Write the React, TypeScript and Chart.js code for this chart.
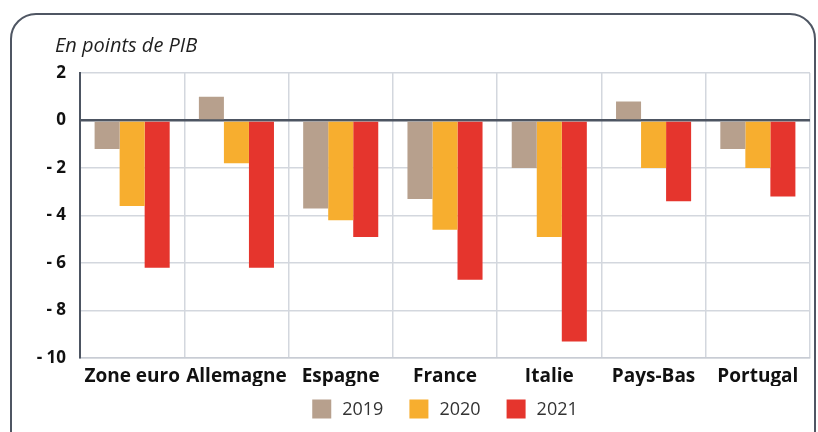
import React, { useEffect, useRef } from "react";
import { Chart, registerables } from "chart.js";

Chart.register(...registerables);

const categories = ["Zone euro", "Allemagne", "Espagne", "France", "Italie", "Pays-Bas", "Portugal"];
const values2019 = [-1.2, 1.0, -3.7, -3.3, -2.0, 0.8, -1.2];
const values2020 = [-3.6, -1.8, -4.2, -4.6, -4.9, -2.0, -2.0];
const values2021 = [-6.2, -6.2, -4.9, -6.7, -9.3, -3.4, -3.2];
const seriesLabels = ["2019", "2020", "2021"];
const seriesColors = ["#b7a08d", "#f7ae2f", "#e5352d"];
const yTicks = [2, 0, -2, -4, -6, -8, -10];
const titleText = "En points de PIB";

const FONT = "'Open Sans', 'DejaVu Sans', sans-serif";

export default function App() {
  const ref = useRef<HTMLCanvasElement | null>(null);

  useEffect(() => {
    if (!ref.current) return;
    const extrasPlugin = {
      id: "extras",
      afterDraw(chart: any) {
        const ctx = chart.ctx;
        ctx.save();
        // title
        ctx.font = `italic 20px ${FONT}`;
        ctx.fillStyle = "#1f1f1f";
        ctx.textAlign = "left";
        ctx.textBaseline = "middle";
        ctx.fillText(titleText, 55, 46);
        // legend
        ctx.font = `18px ${FONT}`;
        const box = 19;
        const gapText = 11;
        const gapItem = 26;
        const widths = seriesLabels.map((l) => ctx.measureText(l).width);
        const total = widths.reduce((a, w) => a + box + gapText + w, 0) + gapItem * (seriesLabels.length - 1);
        const cx = (chart.chartArea.left + chart.chartArea.right) / 2;
        let x = cx - total / 2;
        const cy = 409;
        seriesLabels.forEach((l, i) => {
          ctx.fillStyle = seriesColors[i];
          ctx.fillRect(x, cy - box / 2, box, box);
          ctx.fillStyle = "#333";
          ctx.fillText(l, x + box + gapText, cy + 1);
          x += box + gapText + widths[i] + gapItem;
        });
        ctx.restore();
      },
    };
    const chart = new Chart(ref.current, {
      type: "bar",
      data: {
        labels: categories,
        datasets: [
          { label: seriesLabels[0], data: values2019, backgroundColor: seriesColors[0] },
          { label: seriesLabels[1], data: values2020, backgroundColor: seriesColors[1] },
          { label: seriesLabels[2], data: values2021, backgroundColor: seriesColors[2] },
        ],
      },
      options: {
        animation: false,
        responsive: false,
        maintainAspectRatio: false,
        layout: { padding: { left: 0, right: 8, top: 73, bottom: 46 } },
        datasets: { bar: { barPercentage: 1, categoryPercentage: 0.72 } },
        scales: {
          x: {
            grid: { color: "#d3d7de", lineWidth: 1.5, drawTicks: false, offset: true },
            border: { color: "#c8ccd4", width: 1.5 },
            ticks: {
              padding: 7,
              maxRotation: 0,
              minRotation: 0,
              autoSkip: false,
              color: "#111",
              font: { family: FONT, size: 19, weight: "bold" },
            },
            afterFit: (s: any) => { s.height = 28; },
          },
          y: {
            min: -10,
            max: 2,
            afterBuildTicks: (s: any) => { s.ticks = yTicks.map((v) => ({ value: v })); },
            grid: {
              drawTicks: false,
              color: (c: any) => (c.tick && c.tick.value === 0 ? "#4d5562" : "#d3d7de"),
              lineWidth: (c: any) => (c.tick && c.tick.value === 0 ? 2.5 : 1.5),
            },
            border: { color: "#4d5562", width: 2 },
            ticks: {
              padding: 14,
              color: "#111",
              font: { family: FONT, size: 17, weight: "bold" },
              callback: (v: any) => (v < 0 ? "- " + Math.abs(v) : String(v)),
            },
            afterFit: (s: any) => { s.width = 80; },
          },
        },
        plugins: {
          legend: { display: false },
          tooltip: { enabled: false },
        },
      },
      plugins: [extrasPlugin],
    } as any);
    return () => chart.destroy();
  }, []);

  return (
    <div style={{ position: "fixed", left: 0, top: 0, width: 818, height: 432, overflow: "hidden", background: "#fff" }}>
      <div
        style={{
          position: "absolute",
          left: 10,
          top: 13,
          width: 806,
          height: 460,
          border: "2px solid #4f5663",
          borderRadius: 26,
          boxSizing: "border-box",
        }}
      />
      <canvas ref={ref} width={818} height={432} style={{ position: "absolute", left: 0, top: 0 }} />
    </div>
  );
}
